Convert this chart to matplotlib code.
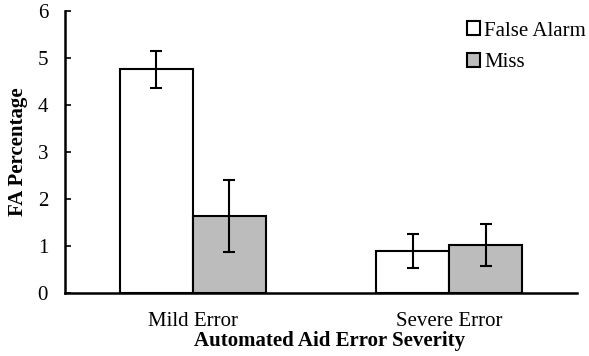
import numpy as np
from matplotlib import pyplot as plt

categories = ['Mild Error', 'Severe Error']
series_names = ['False Alarm', 'Miss']
false_alarm = [4.76, 0.88]
false_alarm_err = [0.39, 0.36]
miss = [1.63, 1.01]
miss_err = [0.77, 0.45]
y_ticks = [0, 1, 2, 3, 4, 5, 6]

plt.rcParams['font.family'] = ['Liberation Serif', 'DejaVu Serif']
plt.rcParams['font.size'] = 15

figure, axes1 = plt.subplots(figsize=(5.89, 3.56), dpi=100)
figure.subplots_adjust(left=0.110, right=0.980, top=0.969, bottom=0.178)

x = np.arange(len(categories))
width = 0.285
error_style = dict(ecolor='black', elinewidth=1.5, capsize=4.3, capthick=1.5)
axes1.bar(x - width / 2, false_alarm, width, yerr=false_alarm_err, color='white',
          edgecolor='black', linewidth=1.5, label=series_names[0], error_kw=error_style)
axes1.bar(x + width / 2, miss, width, yerr=miss_err, color='#bcbcbc',
          edgecolor='black', linewidth=1.5, label=series_names[1], error_kw=error_style)

axes1.set_xlim(-0.5, 1.5)
axes1.set_ylim(0, 6)
axes1.set_yticks(y_ticks)
axes1.set_xticks(x)
axes1.set_xticklabels(categories)
axes1.tick_params(axis='x', length=0, pad=14)
axes1.tick_params(axis='y', direction='in', length=4, width=1.2, pad=12)
for side in ('top', 'right'):
    axes1.spines[side].set_visible(False)
for side in ('left', 'bottom'):
    axes1.spines[side].set_linewidth(1.8)

axes1.set_ylabel('FA Percentage', fontweight='bold', labelpad=7)
axes1.set_xlabel('Automated Aid Error Severity', fontweight='bold', labelpad=0)
axes1.xaxis.label.set_x(0.517)

figure.legend(loc='upper right', bbox_to_anchor=(0.995, 0.94), frameon=False,
              borderpad=0, borderaxespad=0,
              handlelength=0.65, handleheight=0.65, handletextpad=0.2, labelspacing=0.6)

figure.savefig('out.png')
plt.close()
